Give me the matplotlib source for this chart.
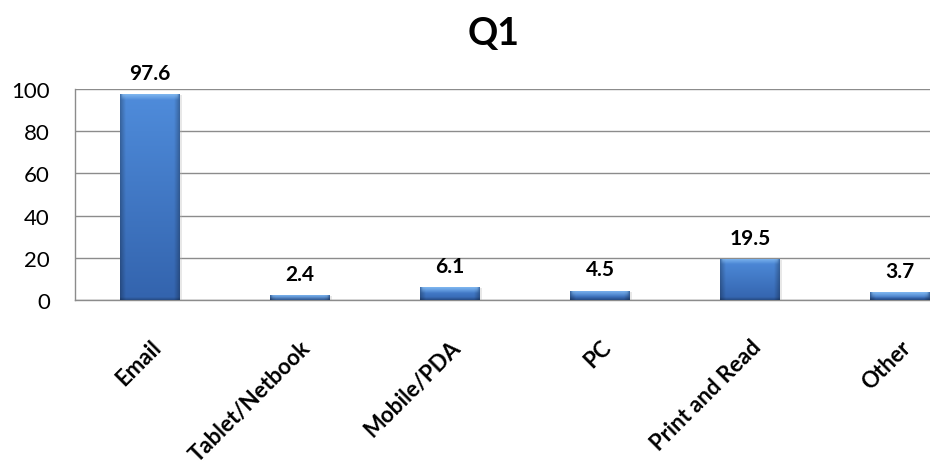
import numpy as np
import matplotlib
matplotlib.use("Agg")
import matplotlib.pyplot as plt
from matplotlib.patches import Rectangle

categories = ["Email", "Tablet/Netbook", "Mobile/PDA", "PC", "Print and Read", "Other"]
values = [97.6, 2.4, 6.1, 4.5, 19.5, 3.7]
yticks = [0, 20, 40, 60, 80, 100]
title = "Q1"

FONT = "Lato"
W, H, DPI = 930, 464, 100

fig = plt.figure(figsize=(W / DPI, H / DPI), dpi=DPI)
fig.patch.set_facecolor("white")

ax_left, ax_right = 75, 975
ax_top, ax_bottom = 90, 301
ax = fig.add_axes([ax_left / W, (H - ax_bottom) / H,
                   (ax_right - ax_left) / W, (ax_bottom - ax_top) / H])

x = np.arange(len(categories))
bar_w = 0.4
bars = ax.bar(x, values, width=bar_w, color="none", edgecolor="none", zorder=3)

ax.set_xlim(-0.5, len(categories) - 0.5)
ax.set_ylim(0, 100)
px_per_unit = (ax_bottom - ax_top) / 100.0
px_per_cat = (ax_right - ax_left) / len(categories)


def bar_image(nh, nw):
    yy = (np.arange(nh) + 0.5)[:, None] / nh
    xx = (np.arange(nw) + 0.5)[None, :]
    top = np.array([0.31, 0.55, 0.86])
    bot = np.array([0.20, 0.39, 0.68])
    img = top[None, None, :] * (1 - yy[..., None]) + bot[None, None, :] * yy[..., None]
    # darker side edges
    dx = np.minimum(xx, nw - xx)
    side = 0.72 + 0.28 * np.clip(dx / 6.0, 0, 1)
    img = img * side[..., None]
    # light bevel along the top
    py = (np.arange(nh) + 0.5)[:, None]
    bev = np.clip(1 - py / 6.0, 0, 1) * np.clip(dx / 3.0, 0, 1)
    light = np.array([0.55, 0.76, 0.96])
    img = img * (1 - bev[..., None] * 0.8) + light * bev[..., None] * 0.8
    # slightly darker bottom rim
    pb = nh - py
    rim = np.clip(1 - pb / 3.0, 0, 1) * 0.25
    img = img * (1 - rim[..., None])
    return np.clip(img, 0, 1)


for rect, v in zip(bars, values):
    x0 = rect.get_x()
    x1 = x0 + rect.get_width()
    h = rect.get_height()
    nh = max(int(round(h * px_per_unit)), 2)
    nw = max(int(round(rect.get_width() * px_per_cat)), 2)
    # soft shadow
    sh = Rectangle((x0 + 0.012, 0), rect.get_width(), h - 0.5,
                   facecolor=(0.7, 0.7, 0.7), alpha=0.3, edgecolor="none", zorder=2.5)
    ax.add_patch(sh)
    im = ax.imshow(bar_image(nh, nw), extent=(x0, x1, 0, h), origin="upper",
                   aspect="auto", interpolation="bilinear", zorder=3)
    im.set_clip_path(rect)
    ax.annotate(f"{v:.1f}", (rect.get_x() + rect.get_width() / 2, h),
                xytext=(0, 8), textcoords="offset points", ha="center", va="bottom",
                fontsize=15, fontweight="bold", family=FONT, color="black")

ax.set_xlim(-0.5, len(categories) - 0.5)
ax.set_ylim(0, 100)

ax.set_yticks(yticks)
ax.set_yticklabels([str(t) for t in yticks], fontsize=16, family=FONT)
ax.yaxis.grid(True, color="#8c8c8c", linewidth=1.0, zorder=0)
ax.set_axisbelow(True)
ax.tick_params(axis="y", length=0, pad=18, colors="black")

ax.set_xticks(x)
ax.set_xticklabels(categories, rotation=45, ha="right", rotation_mode="anchor",
                   fontsize=16, fontweight="bold", family=FONT)
ax.tick_params(axis="x", length=0, pad=26)

for s in ["top", "right"]:
    ax.spines[s].set_visible(False)
for s in ["left", "bottom"]:
    ax.spines[s].set_color("#8c8c8c")
    ax.spines[s].set_linewidth(1.0)

fig.text(494 / W, 1 - 45 / H, title, ha="center", va="baseline",
         fontsize=27, fontweight="bold", family=FONT)

fig.savefig("out.png", dpi=DPI)
